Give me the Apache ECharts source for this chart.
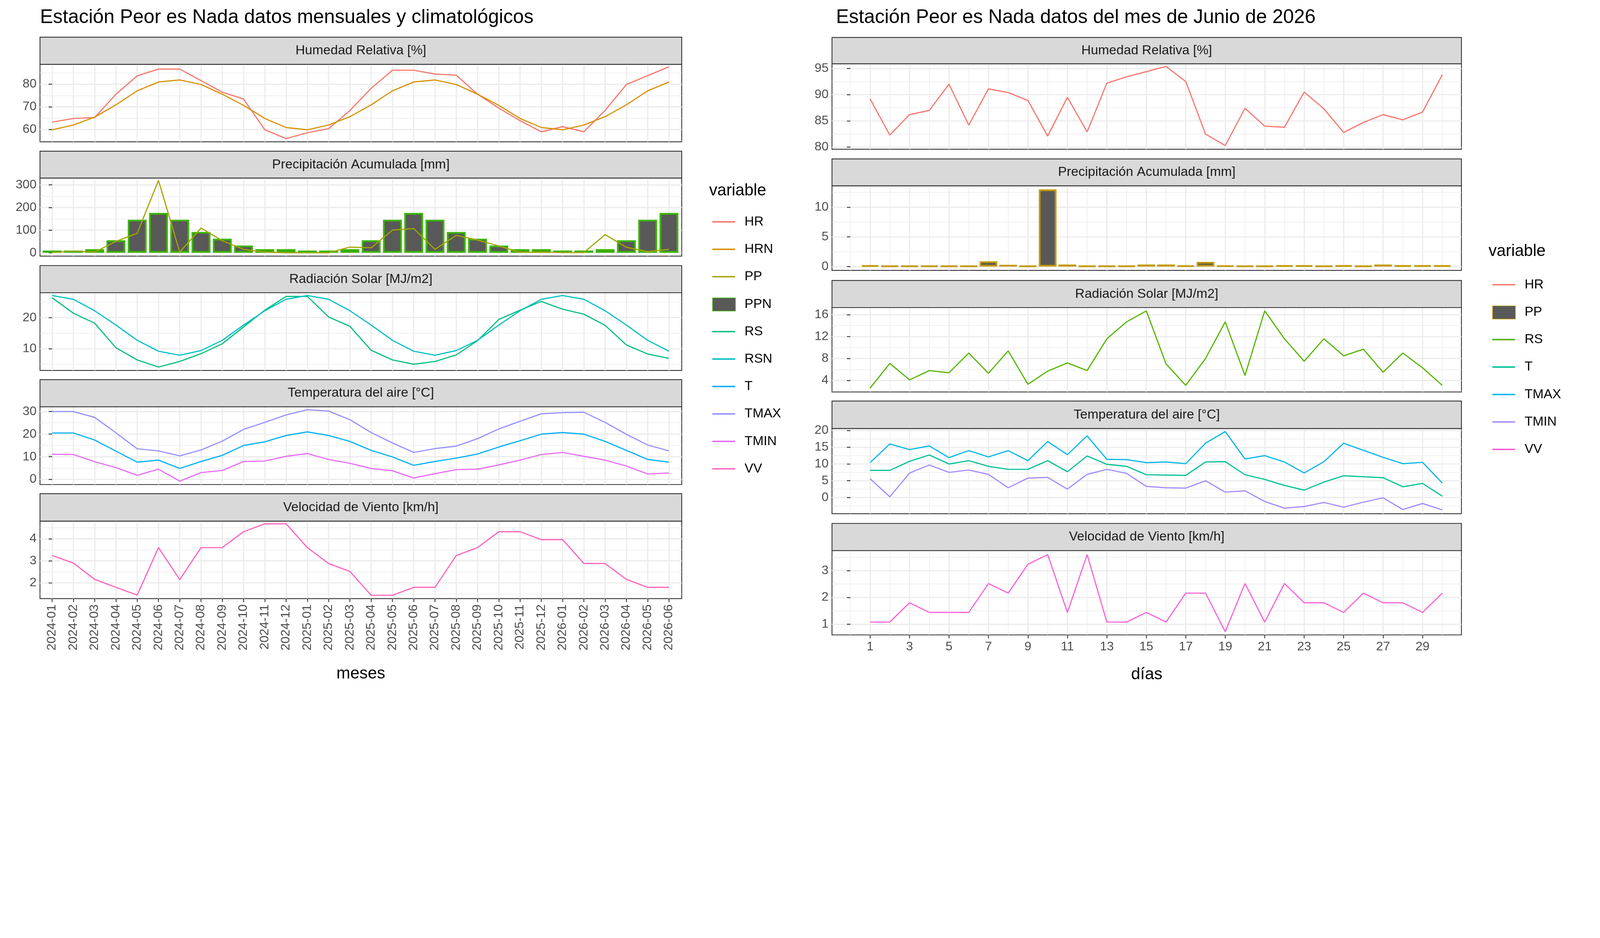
<!DOCTYPE html>
<html><head><meta charset="utf-8">
<script src="https://cdn.jsdelivr.net/npm/echarts@6/dist/echarts.min.js"></script>
<style>html,body{margin:0;padding:0;background:#fff;overflow:hidden}#c{width:5600px;height:2400px;transform-origin:0 0}</style>
</head><body><div id="c"></div>
<script>
// ---- Monthly data (2024-01 .. 2026-06) ----
const months = ["2024-01","2024-02","2024-03","2024-04","2024-05","2024-06","2024-07","2024-08","2024-09","2024-10","2024-11","2024-12","2025-01","2025-02","2025-03","2025-04","2025-05","2025-06","2025-07","2025-08","2025-09","2025-10","2025-11","2025-12","2026-01","2026-02","2026-03","2026-04","2026-05","2026-06"];
const HR  = [63.3,64.9,65.3,75.6,83.7,86.7,86.7,81.6,76.5,73.5,59.9,56.0,58.6,60.4,68.4,78.2,86.2,86.2,84.5,84.0,75.6,69.5,63.9,59.0,61.3,59.0,68.5,79.9,83.8,87.7];
const HRN = [59.9,62.0,65.5,70.9,77.1,81.0,81.9,79.9,75.6,70.7,64.9,60.9,59.9,62.0,65.7,70.9,77.1,81.0,81.9,79.9,75.6,70.7,64.9,60.9,59.9,62.0,65.7,70.9,77.1,81.0];
const PP  = [1,7,3,50,86,320,3,109,53,15,3,0,0,0,25,22,100,107,15,77,56,30,2,3,1,1,80,24,5,15];
const PPN = [10,10,16,55,146,176,146,92,62,32,16,16,10,10,16,55,146,176,146,92,62,32,16,16,10,10,16,55,146,176];
const RS  = [26.4,21.4,18.2,10.3,6.4,4.1,5.9,8.4,11.6,17.0,22.4,26.8,26.8,20.2,17.2,9.5,6.4,5.0,5.9,8.0,12.6,19.4,22.4,25.2,22.7,21.1,17.5,11.2,8.3,6.9];
const RSN = [27.1,25.9,22.2,17.6,12.7,9.2,7.9,9.4,12.7,17.6,22.2,25.9,27.1,25.9,22.2,17.6,12.7,9.2,7.9,9.4,12.7,17.6,22.2,25.9,27.1,25.9,22.2,17.6,12.7,9.2];
const T   = [20.5,20.5,17.4,12.5,7.6,8.5,4.8,7.9,10.6,15.0,16.6,19.4,21.0,19.4,16.8,12.8,9.9,6.2,7.9,9.4,11.2,14.3,17.1,20.0,20.7,20.0,16.8,12.8,8.8,7.6];
const TMAX= [30.0,30.0,27.4,20.6,13.5,12.6,10.4,13.0,16.9,22.1,25.2,28.5,30.8,30.2,26.4,20.7,16.1,11.9,13.6,14.7,18.0,22.3,25.7,29.0,29.5,29.7,25.2,19.9,15.2,12.6];
const TMIN= [11.1,11.0,7.8,5.2,1.8,4.5,-0.8,3.0,3.9,7.9,8.1,10.2,11.4,8.8,7.1,4.8,3.8,0.6,2.5,4.3,4.5,6.4,8.5,11.0,11.9,10.2,8.5,5.9,2.4,2.8];
const VV  = [3.24,2.90,2.16,1.80,1.45,3.60,2.15,3.60,3.60,4.32,4.68,4.68,3.60,2.88,2.52,1.44,1.44,1.80,1.80,3.24,3.60,4.32,4.32,3.96,3.96,2.88,2.88,2.16,1.80,1.80];
// ---- Daily data (June 2026) ----
const days = [1,2,3,4,5,6,7,8,9,10,11,12,13,14,15,16,17,18,19,20,21,22,23,24,25,26,27,28,29,30];
const dHR  = [89.2,82.3,86.2,87.0,92.0,84.2,91.1,90.4,88.9,82.1,89.5,82.9,92.2,93.4,94.4,95.4,92.5,82.5,80.3,87.4,84.0,83.8,90.5,87.3,82.8,84.7,86.2,85.2,86.7,93.8];
const dPP  = [0.2,0.1,0.1,0.1,0.1,0.1,0.9,0.3,0.1,13.0,0.35,0.1,0.1,0.1,0.35,0.35,0.15,0.8,0.15,0.1,0.1,0.2,0.2,0.1,0.2,0.1,0.35,0.2,0.2,0.2];
const dRS  = [2.6,7.1,4.1,5.8,5.4,9.0,5.3,9.4,3.3,5.7,7.2,5.8,11.6,14.7,16.7,7.0,3.1,8.0,14.7,4.9,16.7,11.6,7.5,11.6,8.5,9.7,5.5,9.0,6.3,3.1];
const dT   = [8.1,8.1,10.8,12.7,10.0,11.0,9.3,8.4,8.4,11.0,7.7,12.4,9.9,9.3,6.8,6.7,6.6,10.6,10.7,6.8,5.4,3.6,2.2,4.6,6.5,6.2,5.9,3.2,4.2,0.4];
const dTMAX= [10.4,16.0,14.3,15.4,11.9,14.0,12.1,14.0,11.0,16.7,12.8,18.4,11.4,11.3,10.4,10.6,10.1,16.2,19.7,11.5,12.5,10.6,7.3,10.7,16.2,14.1,12.0,10.1,10.5,4.3];
const dTMIN= [5.6,0.2,7.3,9.7,7.5,8.2,6.9,2.9,5.8,6.0,2.5,6.9,8.4,7.2,3.3,2.9,2.8,5.0,1.6,2.0,-1.2,-3.2,-2.7,-1.5,-2.9,-1.4,-0.1,-3.6,-1.8,-3.7];
const dVV  = [1.08,1.08,1.8,1.44,1.44,1.44,2.52,2.16,3.24,3.6,1.44,3.6,1.08,1.08,1.44,1.08,2.16,2.16,0.72,2.52,1.08,2.52,1.8,1.8,1.44,2.16,1.8,1.8,1.44,2.16];

const FONT = 'Liberation Sans';
const LGRID = {left:140, width:2246};
const RGRID = {left:2912, width:2203};
const lPanels = [[225,496],[623,896],[1024,1296],[1423,1695],[1823,2094]];
const rPanels = [[223,522],[650,946],[1076,1371],[1499,1797],[1926,2221]];
const lStrips = ["Humedad Relativa [%]","Precipitación Acumulada [mm]","Radiación Solar [MJ/m2]","Temperatura del aire [°C]","Velocidad de Viento [km/h]"];
const lY = [[54.6,88.8,[60,70,80],[55,65,75,85]],[-15,330,[0,100,200,300],[50,150,250]],[3,28,[10,20],[5,15,25]],[-2.3,32.1,[0,10,20,30],[5,15,25]],[1.29,4.8,[2,3,4],[1.5,2.5,3.5,4.5]]];
const rY = [[79.6,95.9,[80,85,90,95],[82.5,87.5,92.5]],[-0.65,13.6,[0,5,10],[2.5,7.5,12.5]],[1.9,17.3,[4,8,12,16],[2,6,10,14]],[-4.85,20.6,[0,5,10,15,20],[-2.5,2.5,7.5,12.5,17.5]],[0.6,3.75,[1,2,3],[1.5,2.5,3.5]]];

const grids=[], xAxes=[], yAxes=[], graphics=[];
const monthIdx = months.map((m,i)=>i);
const oddDays = days.filter(d=>d%2===1);
const evenDays = [0,2,4,6,8,10,12,14,16,18,20,22,24,26,28,30];
const gridCol = '#EBEBEB';

function addPanel(side, k) {
  const P = side==='L'?lPanels:rPanels, G = side==='L'?LGRID:RGRID, Y = side==='L'?lY:rY;
  const [top,bot] = P[k];
  const gi = grids.length;
  grids.push({left:G.left, width:G.width, top:top, height:bot-top, show:true, borderColor:'#333333', borderWidth:3, backgroundColor:'transparent'});
  const last = k===4;
  if (side==='L') {
    xAxes.push({type:'value', gridIndex:gi, min:-0.57, max:29.6, position:'bottom',
      axisLine:{show:false}, axisTick:{show:last, customValues:monthIdx, length:12, lineStyle:{color:'#333',width:3}},
      axisLabel:{show:last, customValues:monthIdx, rotate:90, fontSize:44, color:'#4D4D4D', fontFamily:FONT, margin:20, formatter:v=>months[Math.round(v)]||''},
      splitLine:{show:true, lineStyle:{color:gridCol,width:4}},
      name: last?'meses':'', nameLocation:'middle', nameGap:235, nameTextStyle:{fontSize:58, color:'#000', fontFamily:FONT}});
  } else {
    xAxes.push({type:'value', gridIndex:gi, min:-0.93, max:30.97, position:'bottom',
      axisLine:{show:false}, axisTick:{show:last, customValues:oddDays, length:12, lineStyle:{color:'#333',width:3}},
      axisLabel:{show:last, customValues:oddDays, fontSize:44, color:'#4D4D4D', fontFamily:FONT, margin:20},
      splitLine:{show:true, lineStyle:{color:gridCol,width:4}},
      name: last?'días':'', nameLocation:'middle', nameGap:110, nameTextStyle:{fontSize:58, color:'#000', fontFamily:FONT}});
    xAxes.push({type:'value', gridIndex:gi, min:-0.93, max:30.97, position:'top', axisLine:{show:false},
      axisTick:{show:false, customValues:evenDays}, axisLabel:{show:false, customValues:evenDays},
      splitLine:{show:true, lineStyle:{color:gridCol,width:2}}});
  }
  const [mn,mx,maj,minr] = Y[k];
  yAxes.push({type:'value', gridIndex:gi, min:mn, max:mx, position:'left', axisLine:{show:false},
    axisTick:{show:true, customValues:maj, length:12, lineStyle:{color:'#333',width:3}},
    axisLabel:{customValues:maj, fontSize:44, color:'#4D4D4D', fontFamily:FONT, margin:12},
    splitLine:{show:true, lineStyle:{color:gridCol,width:4}}});
  yAxes.push({type:'value', gridIndex:gi, min:mn, max:mx, position:'right', axisLine:{show:false},
    axisTick:{show:false, customValues:minr}, axisLabel:{show:false, customValues:minr},
    splitLine:{show:true, lineStyle:{color:gridCol,width:2}}});
  const st = side==='L'?[[130,225],[529,623],[929,1024],[1328,1423],[1727,1823]][k]:[[131,223],[556,650],[981,1076],[1403,1499],[1831,1926]][k];
  graphics.push({type:'rect', shape:{x:G.left, y:st[0], width:G.width, height:st[1]-st[0]}, style:{fill:'#D9D9D9', stroke:'#333333', lineWidth:3}, z:10});
  graphics.push({type:'text', x:G.left+G.width/2, y:(st[0]+st[1])/2, style:{text:lStrips[k], fontSize:46, fill:'#1A1A1A', fontFamily:FONT, align:'center', verticalAlign:'middle'}, z:11});
  return {gi, xi: xAxes.length - (side==='L'?1:2), yi: yAxes.length-2};
}

const L = [0,1,2,3,4].map(k=>addPanel('L',k));
const R = [0,1,2,3,4].map(k=>addPanel('R',k));

function line(name, p, xs, ys, color) {
  return {name, type:'line', xAxisIndex:p.xi, yAxisIndex:p.yi, data:xs.map((x,i)=>[x,ys[i]]),
    symbol:'none', lineStyle:{color, width:4}, itemStyle:{color}, z:5, animation:false};
}
function bars(name, p, xs, ys, border, w) {
  return {name, type:'bar', xAxisIndex:p.xi, yAxisIndex:p.yi, data:xs.map((x,i)=>[x,ys[i]]),
    barWidth:w, itemStyle:{color:'#595959', borderColor:border, borderWidth:6}, z:2, animation:false};
}

const series = [
  line('HR', L[0], monthIdx, HR, '#F8766D'),
  line('HRN', L[0], monthIdx, HRN, '#D89000'),
  bars('PPN', L[1], monthIdx, PPN, '#39B600', 66),
  line('PP', L[1], monthIdx, PP, '#A3A500'),
  line('RS', L[2], monthIdx, RS, '#00BF7D'),
  line('RSN', L[2], monthIdx, RSN, '#00BFC4'),
  line('T', L[3], monthIdx, T, '#00B0F6'),
  line('TMAX', L[3], monthIdx, TMAX, '#9590FF'),
  line('TMIN', L[3], monthIdx, TMIN, '#E76BF3'),
  line('VV', L[4], monthIdx, VV, '#FF62BC'),
  line('HR_d', R[0], days, dHR, '#F8766D'),
  bars('PP_d', R[1], days, dPP, '#C49A00', 62),
  line('RS_d', R[2], days, dRS, '#53B400'),
  line('T_d', R[3], days, dT, '#00C094'),
  line('TMAX_d', R[3], days, dTMAX, '#00B6EB'),
  line('TMIN_d', R[3], days, dTMIN, '#A58AFF'),
  line('VV_d', R[4], days, dVV, '#FB61D7'),
];

graphics.push({type:'text', x:140, y:62, style:{text:'Estación Peor es Nada datos mensuales y climatológicos', fontSize:68, fill:'#000', fontFamily:FONT, verticalAlign:'middle'}});
graphics.push({type:'text', x:2926, y:62, style:{text:'Estación Peor es Nada datos del mes de Junio de 2026', fontSize:68, fill:'#000', fontFamily:FONT, verticalAlign:'middle'}});
graphics.push({type:'text', x:2482, y:668, style:{text:'variable', fontSize:57, fill:'#000', fontFamily:FONT, verticalAlign:'middle'}});
graphics.push({type:'text', x:5210, y:880, style:{text:'variable', fontSize:57, fill:'#000', fontFamily:FONT, verticalAlign:'middle'}});

const lineLeg = {orient:'vertical', icon:'rect', itemWidth:80, itemHeight:5, itemGap:50, selectedMode:false,
  textStyle:{fontSize:46, lineHeight:46, color:'#000', fontFamily:FONT, padding:[0,0,0,28]}, formatter:n=>n.split('_')[0]};
const boxLeg = {orient:'vertical', icon:'rect', itemWidth:80, itemHeight:46, selectedMode:false,
  textStyle:{fontSize:46, lineHeight:46, color:'rgba(0,0,0,0)', fontFamily:FONT, padding:[0,0,0,28]}, formatter:n=>n.split('_')[0]};
function legItems(names, boxName){ return names.map(n=> n===boxName ? {name:n, icon:'none'} : n); }

const s = window.innerWidth / 5600;
const el = document.getElementById('c');
el.style.transform = 'scale(' + s + ')';
const chart = echarts.init(el, null, {devicePixelRatio:(window.devicePixelRatio||1)*s});
const LT = 748, RT = 968;
chart.setOption({
  animation:false, backgroundColor:'#fff',
  grid:grids, xAxis:xAxes, yAxis:yAxes, series,
  legend:[
    Object.assign({left:2488, top:LT, data:legItems(['HR','HRN','PP','PPN','RS','RSN','T','TMAX','TMIN','VV'],'PPN')}, lineLeg),
    Object.assign({left:2488, top:LT+3*96, data:['PPN']}, boxLeg),
    Object.assign({left:5218, top:RT, data:legItems(['HR_d','PP_d','RS_d','T_d','TMAX_d','TMIN_d','VV_d'],'PP_d')}, lineLeg),
    Object.assign({left:5218, top:RT+96, data:['PP_d']}, boxLeg)
  ],
  graphic:graphics
});
</script></body></html>
